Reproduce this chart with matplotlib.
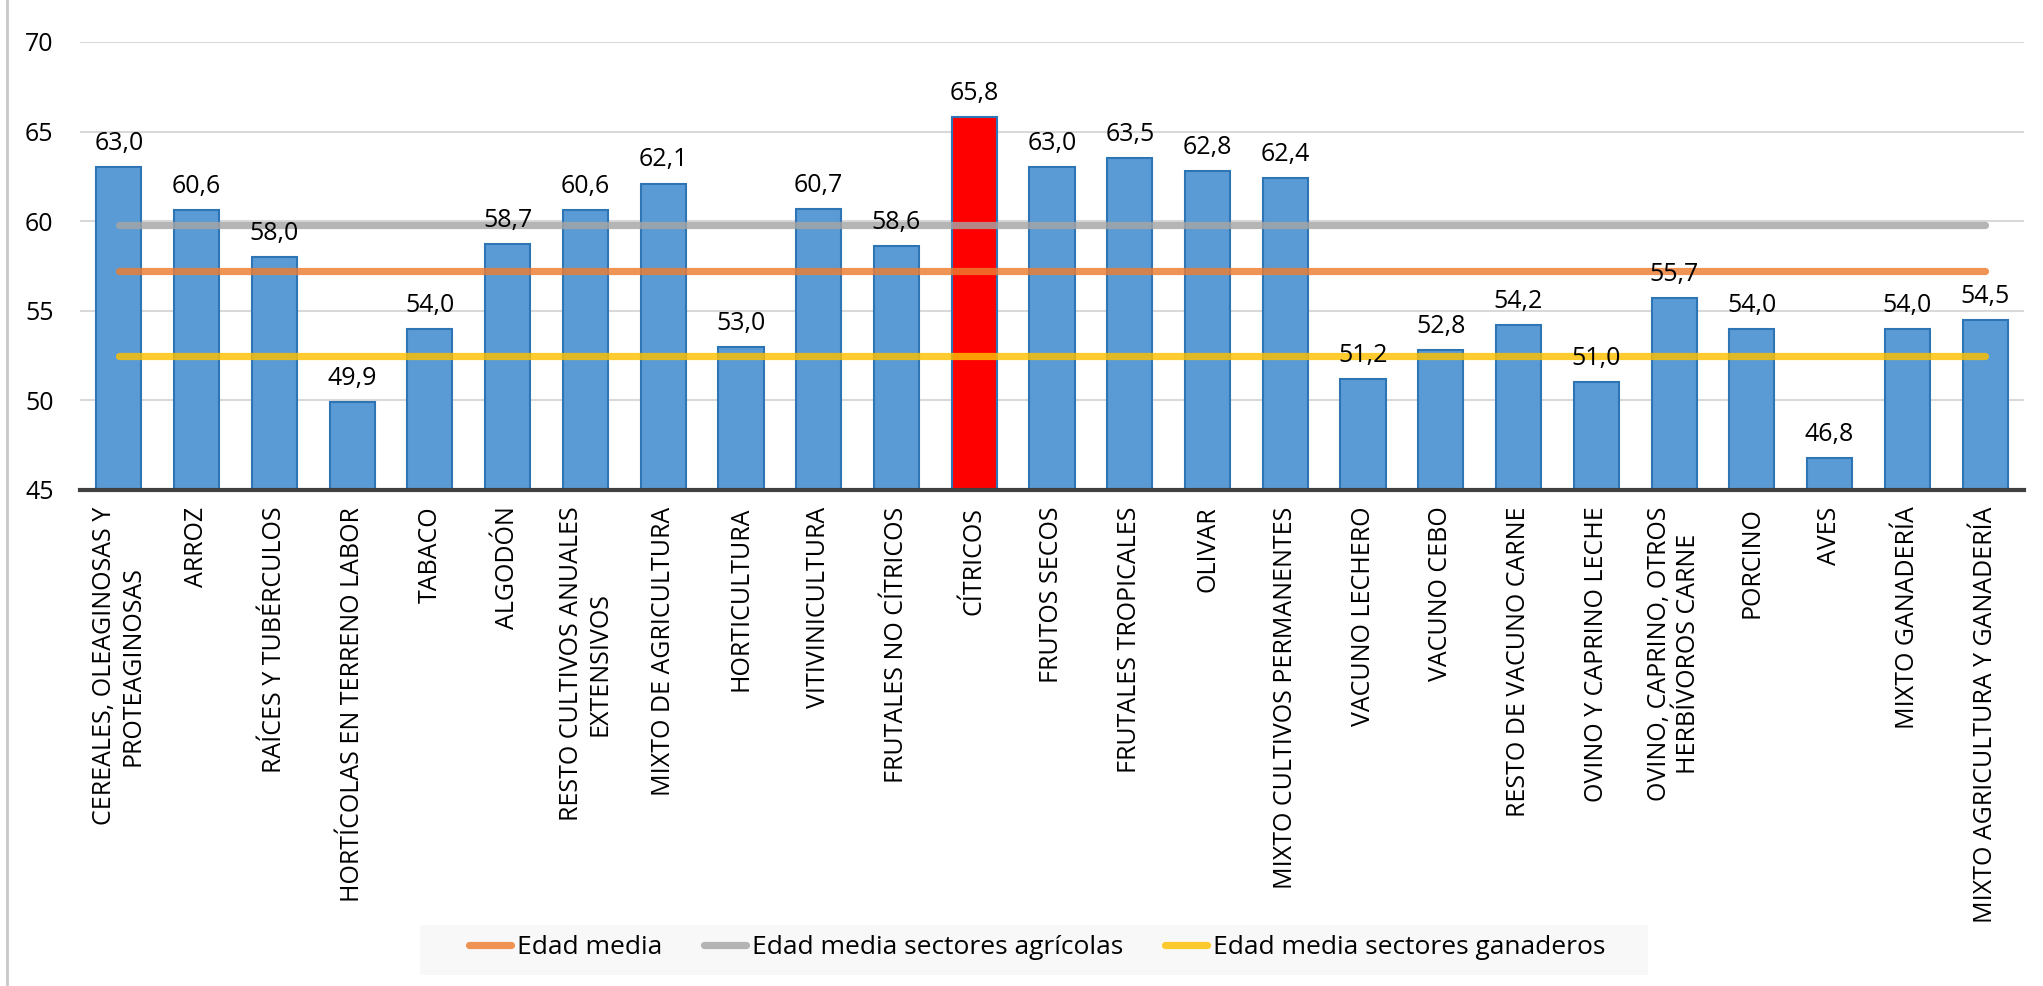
import matplotlib
matplotlib.use("Agg")
import matplotlib.pyplot as plt
from matplotlib.patches import Rectangle
from matplotlib.lines import Line2D

plt.rcParams["font.family"] = ["Open Sans", "DejaVu Sans"]

categories = [
    "CEREALES, OLEAGINOSAS Y\nPROTEAGINOSAS", "ARROZ", "RAÍCES Y TUBÉRCULOS",
    "HORTÍCOLAS EN TERRENO LABOR", "TABACO", "ALGODÓN",
    "RESTO CULTIVOS ANUALES\nEXTENSIVOS", "MIXTO DE AGRICULTURA", "HORTICULTURA",
    "VITIVINICULTURA", "FRUTALES NO CÍTRICOS", "CÍTRICOS", "FRUTOS SECOS",
    "FRUTALES TROPICALES", "OLIVAR", "MIXTO CULTIVOS PERMANENTES",
    "VACUNO LECHERO", "VACUNO CEBO", "RESTO DE VACUNO CARNE",
    "OVINO Y CAPRINO LECHE", "OVINO, CAPRINO, OTROS\nHERBÍVOROS CARNE",
    "PORCINO", "AVES", "MIXTO GANADERÍA", "MIXTO AGRICULTURA Y GANADERÍA",
]
edad_sector = [63.0, 60.6, 58.0, 49.9, 54.0, 58.7, 60.6, 62.1, 53.0, 60.7,
               58.6, 65.8, 63.0, 63.5, 62.8, 62.4, 51.2, 52.8, 54.2, 51.0,
               55.7, 54.0, 46.8, 54.0, 54.5]
highlight = "CÍTRICOS"
edad_media = 57.2
edad_media_agricolas = 59.8
edad_media_ganaderos = 52.5

W, H = 2043, 986
fig = plt.figure(figsize=(W / 100, H / 100), dpi=100)
ax = fig.add_axes([80 / W, 1 - 490 / H, (2024 - 80) / W, (490 - 42) / H])

x = list(range(len(categories)))
colors = ["#ff0000" if c == highlight else "#5b9bd5" for c in categories]
ax.bar(x, [v - 45 for v in edad_sector], bottom=45, width=0.58, color=colors,
       edgecolor="#2e75b6", linewidth=1.5, zorder=2)

line_style = dict(linewidth=5.2, solid_capstyle="round", alpha=0.82, zorder=3)
ax.plot(x, [edad_media] * len(x), color="#ed7d31", label="Edad media", **line_style)
ax.plot(x, [edad_media_agricolas] * len(x), color="#a5a5a5",
        label="Edad media sectores agrícolas", **line_style)
ax.plot(x, [edad_media_ganaderos] * len(x), color="#ffc000",
        label="Edad media sectores ganaderos", **line_style)

for xi, v in zip(x, edad_sector):
    ax.annotate(f"{v:.1f}".replace(".", ","), (xi, v), xytext=(0, 8),
                textcoords="offset points", ha="center", va="bottom",
                fontsize=18, color="#000000", zorder=4)

ax.set_xlim(-0.5, len(x) - 0.5)
ax.set_ylim(45, 70)
ax.set_yticks([45, 50, 55, 60, 65, 70])
ax.set_xticks(x)
ax.set_xticklabels(categories, rotation=90, ha="center", va="top",
                   multialignment="center", fontsize=18)
ax.tick_params(axis="both", length=0)
ax.tick_params(axis="y", labelsize=18, pad=19)
ax.tick_params(axis="x", pad=12)
ax.yaxis.grid(True, color="#d9d9d9", linewidth=1.5, zorder=0)
ax.set_axisbelow(True)
for side in ["top", "right", "left"]:
    ax.spines[side].set_visible(False)
ax.spines["bottom"].set_color("#404040")
ax.spines["bottom"].set_linewidth(3)
ax.spines["bottom"].set_zorder(5)

# legend panel
fig.patches.append(Rectangle((420 / W, 1 - 975 / H), (1648 - 420) / W, 50 / H,
                             transform=fig.transFigure, facecolor="#f8f8f8",
                             edgecolor="none", zorder=0))
fig.legend(loc="center", bbox_to_anchor=(1037 / W, 1 - 948 / H), ncol=3,
           frameon=False, fontsize=19, handlelength=1.6, handletextpad=0.2,
           columnspacing=1.6)

# left chart border
fig.add_artist(Line2D([7 / W, 7 / W], [0, 1], transform=fig.transFigure,
                      color="#c8c8c8", linewidth=2))

fig.savefig("out.png", dpi=100)
